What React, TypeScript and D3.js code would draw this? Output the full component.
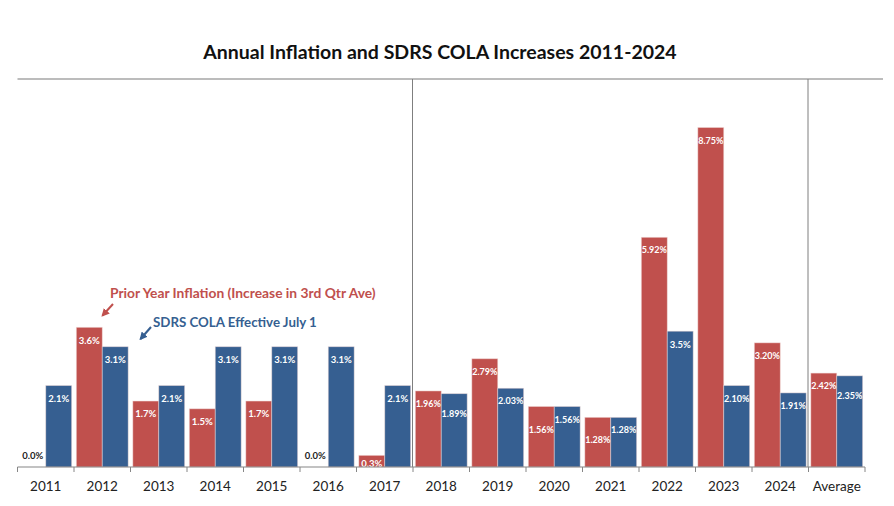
import * as d3 from "d3";

const CATEGORIES = ["2011","2012","2013","2014","2015","2016","2017","2018","2019","2020","2021","2022","2023","2024","Average"];
const INFLATION = [0, 3.6, 1.7, 1.5, 1.7, 0, 0.3, 1.96, 2.79, 1.56, 1.28, 5.92, 8.75, 3.2, 2.42];
const INFLATION_LABELS = ["0.0%","3.6%","1.7%","1.5%","1.7%","0.0%","0.3%","1.96%","2.79%","1.56%","1.28%","5.92%","8.75%","3.20%","2.42%"];
const COLA = [2.1, 3.1, 2.1, 3.1, 3.1, 3.1, 2.1, 1.89, 2.03, 1.56, 1.28, 3.5, 2.1, 1.91, 2.35];
const COLA_LABELS = ["2.1%","3.1%","2.1%","3.1%","3.1%","3.1%","2.1%","1.89%","2.03%","1.56%","1.28%","3.5%","2.10%","1.91%","2.35%"];
const DIVIDERS = ["2018", "Average"];

const W = 894, H = 506;
const RED = "#C0504D", BLUE = "#365F91";
const FONT = "Lato, 'Open Sans', sans-serif";

export default function App() {
  const x = d3.scaleBand().domain(CATEGORIES).range([17.5, 865]).paddingInner(0).paddingOuter(0);
  const y = d3.scaleLinear().domain([0, 10]).range([467, 79]);
  const inner = d3.scaleBand().domain(["inf", "cola"]).range([0, x.bandwidth()]).paddingOuter(0.09).paddingInner(0);
  const bw = inner.bandwidth();

  const series = [
    { key: "inf", values: INFLATION, labels: INFLATION_LABELS, color: RED },
    { key: "cola", values: COLA, labels: COLA_LABELS, color: BLUE },
  ];

  // label y positions, nudging the lower one down when a pair would collide (like Excel does)
  const labelY = (v: number) => (v === 0 ? y(0) - 11 : Math.min(y(v) + 13, y(0) - 3.5));
  const posInf = INFLATION.map(labelY);
  const posCola = COLA.map(labelY);
  CATEGORIES.forEach((_, i) => {
    const wide = INFLATION_LABELS[i].length > 4 || COLA_LABELS[i].length > 4;
    if (!wide || Math.abs(posInf[i] - posCola[i]) >= 10) return;
    if (INFLATION[i] <= COLA[i]) posInf[i] = posCola[i] + 10;
    else posCola[i] = posInf[i] + 10;
  });
  const positions: Record<string, number[]> = { inf: posInf, cola: posCola };

  const ticks = CATEGORIES.map((c) => x(c)!).concat([x.range()[1]]);

  return (
    <svg width={W} height={H} style={{ position: "absolute", left: 0, top: 0, background: "#fff" }} fontFamily={FONT}>
      <text x={440} y={52} dy="0.35em" textAnchor="middle" fontSize={19.5} fontWeight={700} fill="#111">
        Annual Inflation and SDRS COLA Increases 2011-2024
      </text>

      {/* top border + dividers */}
      <line x1={17.5} x2={883} y1={y(10)} y2={y(10)} stroke="#a6a6a6" strokeWidth={1.5} />
      {DIVIDERS.map((d) => (
        <line key={d} x1={x(d)! - 0.5} x2={x(d)! - 0.5} y1={y(10)} y2={y(0)} stroke="#7f7f7f" strokeWidth={1} />
      ))}

      {series.map((s) =>
        s.values.map((v, i) => {
          const cx = x(CATEGORIES[i])! + inner(s.key)!;
          return (
            <rect key={s.key + i} x={cx} y={y(v)} width={bw} height={y(0) - y(v)}
              fill={s.color} stroke="#f2dcdb" strokeOpacity={0.6} strokeWidth={0.8} />
          );
        })
      )}

      {series.map((s) =>
        s.values.map((v, i) => {
          const cx = x(CATEGORIES[i])! + inner(s.key)! + bw / 2;
          const zero = v === 0;
          return (
            <text key={"l" + s.key + i} x={cx} y={positions[s.key][i]} dy="0.35em" textAnchor="middle"
              fontSize={s.labels[i].length > 4 ? 9 : 9.5} fontWeight={700}
              fill={zero ? "#222" : "#fff"}>
              {s.labels[i]}
            </text>
          );
        })
      )}

      {/* axis */}
      <line x1={17.5} x2={865} y1={y(0)} y2={y(0)} stroke="#868686" strokeWidth={1.2} />
      {ticks.map((t, i) => (
        <line key={"t" + i} x1={t} x2={t} y1={y(0)} y2={y(0) + 5} stroke="#868686" strokeWidth={1} />
      ))}
      {CATEGORIES.map((c) => (
        <text key={"c" + c} x={x(c)! + x.bandwidth() / 2} y={486} dy="0.35em" textAnchor="middle" fontSize={13.5} fill="#222">
          {c}
        </text>
      ))}

      {/* annotations */}
      <defs>
        <marker id="arrRed" viewBox="0 0 10 10" refX="8" refY="5" markerWidth="4" markerHeight="4" orient="auto">
          <path d="M0,0 L10,5 L0,10 z" fill={RED} />
        </marker>
        <marker id="arrBlue" viewBox="0 0 10 10" refX="8" refY="5" markerWidth="4" markerHeight="4" orient="auto">
          <path d="M0,0 L10,5 L0,10 z" fill={BLUE} />
        </marker>
      </defs>
      <text x={110} y={293} dy="0.35em" fontSize={13.8} fontWeight={700} fill={RED}>
        Prior Year Inflation (Increase in 3rd Qtr Ave)
      </text>
      <line x1={113} y1={304} x2={102.5} y2={315.5} stroke={RED} strokeWidth={2} markerEnd="url(#arrRed)" />
      <text x={153} y={322} dy="0.35em" fontSize={13.3} fontWeight={700} fill={BLUE}>
        SDRS COLA Effective July 1
      </text>
      <line x1={151} y1={327} x2={140.5} y2={339} stroke={BLUE} strokeWidth={2} markerEnd="url(#arrBlue)" />
    </svg>
  );
}
